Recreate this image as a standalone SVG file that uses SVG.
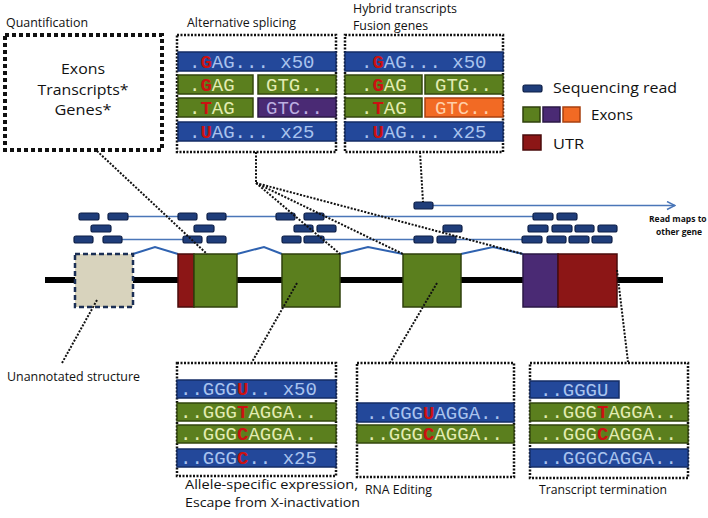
<svg xmlns="http://www.w3.org/2000/svg" width="708" height="518" viewBox="0 0 708 518">
<style>
.lbl{font-family:"Open Sans","Liberation Sans",sans-serif;font-size:13.5px;fill:#111}
.big{font-family:"Open Sans","Liberation Sans",sans-serif;font-size:15px;fill:#111;text-anchor:middle}
.leg{font-family:"Open Sans","Liberation Sans",sans-serif;font-size:15px;fill:#111}
.small{font-family:"Open Sans","Liberation Sans",sans-serif;font-size:8.5px;font-weight:bold;fill:#111}
.seq{font-family:"Liberation Mono","Courier New",monospace;font-size:19px}
.blue{fill:#23489a;stroke:#142d66;stroke-width:1.5}
.green{fill:#5b7f1e;stroke:#33470e;stroke-width:1.5}
.purple{fill:#4a2a74;stroke:#2b1946;stroke-width:1.5}
.orange{fill:#f26a24;stroke:#a8400f;stroke-width:1.5}
.tb{fill:#a9c3ee}
.tg{fill:#e3ecb2}
.tp{fill:#bcaee0}
.to{fill:#ffcfa8}
.hl{fill:#cc1111;font-weight:bold}
.box{fill:none;stroke:#111;stroke-width:2.5;stroke-dasharray:2 1.5}
.read{fill:#1f3d7a;stroke:#0c1e46;stroke-width:1.2}
.rl{stroke:#4a76b8;stroke-width:1.5;fill:none}
.conn{stroke:#111;stroke-width:2;stroke-dasharray:2 1.5;fill:none}
.exon{fill:#5b7f1e;stroke:#2f400d;stroke-width:1.5}
.utr{fill:#8c1616;stroke:#4a0b0b;stroke-width:1.5}
.pexon{fill:#4a2a74;stroke:#2b1946;stroke-width:1.5}
</style>
<defs>
<marker id="arr" viewBox="0 0 10 10" refX="9" refY="5" markerWidth="10" markerHeight="10" markerUnits="userSpaceOnUse" orient="auto">
<path d="M1,1 L9,5 L1,9" fill="none" stroke="#4a76b8" stroke-width="1.5"/>
</marker>
</defs>
<rect width="708" height="518" fill="#fff"/>

<g id="quantification">
<text class="lbl" x="6" y="27" textLength="82" lengthAdjust="spacingAndGlyphs">Quantification</text>
<rect x="5" y="35" width="157" height="115" fill="none" stroke="#111" stroke-width="4" stroke-dasharray="4 3"/>
<text class="big" x="83" y="74" textLength="44" lengthAdjust="spacingAndGlyphs">Exons</text>
<text class="big" x="83" y="94.5" textLength="91" lengthAdjust="spacingAndGlyphs">Transcripts*</text>
<text class="big" x="83" y="115" textLength="57" lengthAdjust="spacingAndGlyphs">Genes*</text>
</g>

<g id="alt-splicing">
<text class="lbl" x="187" y="27" textLength="109" lengthAdjust="spacingAndGlyphs">Alternative splicing</text>
<rect class="box" x="177" y="35" width="159" height="117"/>
<rect class="blue" x="178" y="52" width="158" height="19"/>
<text class="seq tb" x="189" y="67.5">.<tspan class="hl">G</tspan>AG... x50</text>
<rect class="green" x="178" y="75" width="75" height="19"/>
<text class="seq tg" x="189" y="90.5">.<tspan class="hl">G</tspan>AG</text>
<rect class="green" x="258" y="75" width="78" height="19"/>
<text class="seq tg" x="266" y="90.5">GTG..</text>
<rect class="green" x="178" y="98" width="75" height="19"/>
<text class="seq tg" x="189" y="113.5">.<tspan class="hl">T</tspan>AG</text>
<rect class="purple" x="258" y="98" width="78" height="19"/>
<text class="seq tp" x="266" y="113.5">GTC..</text>
<rect class="blue" x="178" y="122" width="158" height="19"/>
<text class="seq tb" x="189" y="137.5">.<tspan class="hl">U</tspan>AG... x25</text>
</g>

<g id="hybrid">
<text class="lbl" x="353" y="12.5" font-size="12.5" textLength="104" lengthAdjust="spacingAndGlyphs">Hybrid transcripts</text>
<text class="lbl" x="353" y="30" font-size="12.5" textLength="75" lengthAdjust="spacingAndGlyphs">Fusion genes</text>
<rect class="box" x="345" y="35" width="158" height="117"/>
<rect class="blue" x="345" y="52" width="158" height="19"/>
<text class="seq tb" x="361" y="67.5">.<tspan class="hl">G</tspan>AG... x50</text>
<rect class="green" x="345" y="75" width="77" height="19"/>
<text class="seq tg" x="361" y="90.5">.<tspan class="hl">G</tspan>AG</text>
<rect class="green" x="425" y="75" width="78" height="19"/>
<text class="seq tg" x="435" y="90.5">GTG..</text>
<rect class="green" x="345" y="98" width="77" height="19"/>
<text class="seq tg" x="361" y="113.5">.<tspan class="hl">T</tspan>AG</text>
<rect class="orange" x="425" y="98" width="78" height="19"/>
<text class="seq to" x="435" y="113.5">GTC..</text>
<rect class="blue" x="345" y="122" width="158" height="19"/>
<text class="seq tb" x="361" y="137.5">.<tspan class="hl">U</tspan>AG... x25</text>
</g>

<g id="legend">
<rect class="read" x="523" y="85" width="19" height="7" rx="2"/>
<text class="leg" x="553" y="93" textLength="124" lengthAdjust="spacingAndGlyphs">Sequencing read</text>
<rect class="exon" x="523" y="107" width="17" height="15"/>
<rect class="pexon" x="543" y="107" width="17" height="15"/>
<rect class="orange" x="563" y="107" width="17" height="15"/>
<text class="leg" x="591" y="120" textLength="42" lengthAdjust="spacingAndGlyphs">Exons</text>
<rect class="utr" x="523" y="135" width="18" height="15"/>
<text class="leg" x="553" y="149" textLength="31" lengthAdjust="spacingAndGlyphs">UTR</text>
</g>

<g id="reads">
<g class="rl">
<line x1="128" y1="216.5" x2="178" y2="216.5"/>
<line x1="226" y1="216.5" x2="276" y2="216.5"/>
<line x1="324" y1="216.5" x2="533" y2="216.5"/>
<line x1="122" y1="239.5" x2="183" y2="239.5"/>
<line x1="324" y1="239.5" x2="414" y2="239.5"/>
<line x1="456" y1="239.5" x2="522" y2="239.5"/>
<line x1="432" y1="205.5" x2="675" y2="205.5" marker-end="url(#arr)"/>
</g>
<g>
<rect class="read" x="414" y="202" width="19" height="7" rx="2"/>
<rect class="read" x="79" y="213" width="20" height="7" rx="2"/>
<rect class="read" x="108" y="213" width="20" height="7" rx="2"/>
<rect class="read" x="178" y="213" width="19" height="7" rx="2"/>
<rect class="read" x="207" y="213" width="19" height="7" rx="2"/>
<rect class="read" x="276" y="213" width="19" height="7" rx="2"/>
<rect class="read" x="304" y="213" width="20" height="7" rx="2"/>
<rect class="read" x="533" y="213" width="20" height="7" rx="2"/>
<rect class="read" x="557" y="213" width="20" height="7" rx="2"/>
<rect class="read" x="91" y="225" width="20" height="7" rx="2"/>
<rect class="read" x="194" y="225" width="20" height="7" rx="2"/>
<rect class="read" x="294" y="225" width="19" height="7" rx="2"/>
<rect class="read" x="317" y="225" width="19" height="7" rx="2"/>
<rect class="read" x="443" y="225" width="19" height="7" rx="2"/>
<rect class="read" x="528" y="225" width="20" height="7" rx="2"/>
<rect class="read" x="552" y="225" width="20" height="7" rx="2"/>
<rect class="read" x="575" y="225" width="19" height="7" rx="2"/>
<rect class="read" x="598" y="225" width="19" height="7" rx="2"/>
<rect class="read" x="74" y="236" width="19" height="7" rx="2"/>
<rect class="read" x="103" y="236" width="19" height="7" rx="2"/>
<rect class="read" x="183" y="236" width="19" height="7" rx="2"/>
<rect class="read" x="207" y="236" width="19" height="7" rx="2"/>
<rect class="read" x="282" y="236" width="19" height="7" rx="2"/>
<rect class="read" x="304" y="236" width="20" height="7" rx="2"/>
<rect class="read" x="414" y="236" width="19" height="7" rx="2"/>
<rect class="read" x="437" y="236" width="19" height="7" rx="2"/>
<rect class="read" x="522" y="236" width="20" height="7" rx="2"/>
<rect class="read" x="547" y="236" width="19" height="7" rx="2"/>
<rect class="read" x="569" y="236" width="20" height="7" rx="2"/>
<rect class="read" x="592" y="236" width="20" height="7" rx="2"/>
</g>
<text class="small" x="649" y="222">Read maps to</text>
<text class="small" x="656" y="235">other gene</text>
</g>

<g id="gene">
<rect x="45" y="277" width="618" height="6" fill="#000"/>
<polyline points="133,254 155,247 178,254" fill="none" stroke="#2f62b0" stroke-width="2"/>
<polyline points="237,254 264,247 282,254" fill="none" stroke="#2f62b0" stroke-width="2"/>
<polyline points="340,254 368,247 403,254" fill="none" stroke="#2f62b0" stroke-width="2"/>
<polyline points="461,254 493,247 523,254" fill="none" stroke="#2f62b0" stroke-width="2"/>
<rect x="75" y="254" width="58" height="53" fill="#d8d3bd" stroke="#1b2f55" stroke-width="2.5" stroke-dasharray="5 3"/>
<rect class="utr" x="178" y="254" width="16" height="53"/>
<rect class="exon" x="194" y="254" width="43" height="53"/>
<rect class="exon" x="282" y="254" width="58" height="53"/>
<rect class="exon" x="403" y="254" width="58" height="53"/>
<rect class="pexon" x="523" y="254" width="35" height="53"/>
<rect class="utr" x="558" y="254" width="59" height="53"/>
</g>

<g id="unannotated">
<text class="lbl" x="7" y="381" font-size="14.5" textLength="133" lengthAdjust="spacingAndGlyphs">Unannotated structure</text>
</g>

<g id="allele-specific">
<rect class="box" x="177" y="363" width="159" height="113"/>
<rect class="blue" x="177" y="380" width="159" height="18"/>
<text class="seq tb" x="180" y="395">..GGG<tspan class="hl">U</tspan>.. x50</text>
<rect class="green" x="177" y="403" width="159" height="18"/>
<text class="seq tg" x="180" y="418">..GGG<tspan class="hl">T</tspan>AGGA..</text>
<rect class="green" x="177" y="425" width="159" height="18"/>
<text class="seq tg" x="180" y="440">..GGG<tspan class="hl">C</tspan>AGGA..</text>
<rect class="blue" x="177" y="449" width="159" height="18"/>
<text class="seq tb" x="180" y="464">..GGG<tspan class="hl">C</tspan>.. x25</text>
<text class="lbl" x="185" y="489" textLength="173" lengthAdjust="spacingAndGlyphs">Allele-specific expression,</text>
<text class="lbl" x="185" y="507" textLength="175" lengthAdjust="spacingAndGlyphs">Escape from X-inactivation</text>
</g>

<g id="rna-editing">
<rect class="box" x="357" y="363" width="157" height="114"/>
<rect class="blue" x="357" y="403" width="157" height="19"/>
<text class="seq tb" x="366" y="418.5">..GGG<tspan class="hl">U</tspan>AGGA..</text>
<rect class="green" x="357" y="425" width="157" height="18"/>
<text class="seq tg" x="366" y="440">..GGG<tspan class="hl">C</tspan>AGGA..</text>
<text class="lbl" x="365" y="494" textLength="67" lengthAdjust="spacingAndGlyphs">RNA Editing</text>
</g>

<g id="transcript-termination">
<rect class="box" x="530" y="363" width="158" height="115"/>
<rect class="blue" x="530" y="381" width="89" height="17"/>
<text class="seq tb" x="540" y="395.5">..GGGU</text>
<rect class="green" x="530" y="403" width="158" height="18"/>
<text class="seq tg" x="540" y="418">..GGG<tspan class="hl">T</tspan>AGGA..</text>
<rect class="green" x="530" y="425" width="158" height="18"/>
<text class="seq tg" x="540" y="440">..GGG<tspan class="hl">C</tspan>AGGA..</text>
<rect class="blue" x="530" y="449" width="158" height="18"/>
<text class="seq tb" x="540" y="464">..GGGCAGGA..</text>
<text class="lbl" x="539" y="494" textLength="128" lengthAdjust="spacingAndGlyphs">Transcript termination</text>
</g>

<g id="connectors" class="conn">
<line x1="97" y1="151" x2="207" y2="254"/>
<line x1="256" y1="152" x2="256" y2="183"/>
<line x1="256" y1="183" x2="340" y2="254"/>
<line x1="256" y1="183" x2="403" y2="254"/>
<line x1="256" y1="183" x2="523" y2="254"/>
<line x1="420" y1="152" x2="423" y2="202"/>
<line x1="97" y1="300" x2="62" y2="363"/>
<line x1="297" y1="283" x2="252" y2="362"/>
<line x1="437" y1="283" x2="390" y2="363"/>
<line x1="617" y1="270" x2="628" y2="362"/>
</g>
</svg>
